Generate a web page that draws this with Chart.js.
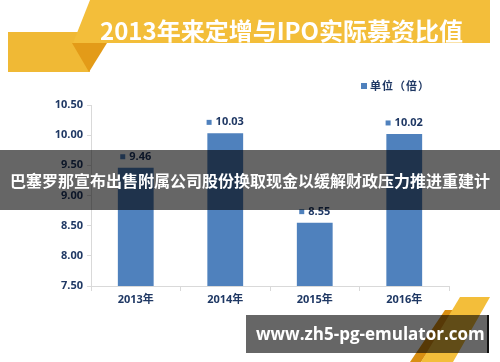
<!DOCTYPE html>
<html>
<head>
<meta charset="utf-8">
<script src="https://cdn.jsdelivr.net/npm/chart.js@4/dist/chart.umd.min.js"></script>
<style>
  html,body{margin:0;padding:0;background:#fff;}
  #wrap{position:relative;width:500px;height:362px;overflow:hidden;background:#fff;font-family:"Noto Sans CJK SC","Open Sans",sans-serif;}
  #deco{position:absolute;left:0;top:0;z-index:0;}
  #c{position:absolute;left:0;top:0;z-index:1;}
  #title{position:absolute;left:100px;top:12px;line-height:36px;font-size:24px;font-weight:bold;color:#fff;z-index:2;white-space:nowrap;}
  #legend{position:absolute;left:361px;top:77px;font-size:11px;letter-spacing:1px;font-weight:bold;color:#1f3864;z-index:2;white-space:nowrap;}
  #legend i{display:inline-block;width:6px;height:6px;background:#4f81bd;margin-right:3px;vertical-align:1px;}
  #strip{position:absolute;left:0;top:150px;width:500px;height:60px;line-height:60px;background:rgba(0,0,0,0.6);color:#fff;font-size:16px;font-weight:bold;text-align:center;z-index:3;white-space:nowrap;}
  #wm{position:absolute;left:246px;top:315px;width:243px;height:38px;line-height:38px;padding-left:10px;box-sizing:border-box;background:rgba(0,0,0,0.6);border-right:2px solid #111;color:#fff;font-family:"Open Sans",sans-serif;font-size:17px;font-weight:bold;z-index:3;white-space:nowrap;}
</style>
</head>
<body>
<div id="wrap">
  <svg id="deco" width="500" height="362">
    <polygon points="8,32 84,32 90,72 8,72" fill="#f0b935"/>
    <polygon points="90,0 490,0 490,43 73,43" fill="#f3be3a"/>
    <polygon points="72,43 107,43 89,72" fill="#e39b18"/>
    <polygon points="445,310 456,310 421,362 410,362" fill="#d98f12"/>
    <polygon points="460,297 490,297 453,362 421,362" fill="#f3be3a"/>
  </svg>
  <canvas id="c" width="500" height="362"></canvas>
  <div id="title">2013年来定增与IPO实际募资比值</div>
  <div id="legend"><i></i>单位（倍）</div>
  <div id="strip">巴塞罗那宣布出售附属公司股份换取现金以缓解财政压力推进重建计</div>
  <div id="wm">www.zh5-pg-emulator.com</div>
</div>
<script>
// ── data ──────────────────────────────────────────────────────────────────────
const years=['2013年','2014年','2015年','2016年'];
const ratios=[9.46,10.03,8.55,10.02];
const yMin=7.5, yMax=10.5, yStep=0.5;

const NAVY='#1f3864', BLUE='#4f81bd', AXIS='#d9d9d9';
const FONT={family:'"Open Sans","Noto Sans CJK SC",sans-serif',size:11,weight:'bold'};

// value labels with a small square marker above each bar
const valPlug={id:'valPlug',afterDatasetsDraw(chart){
  const cx=chart.ctx, meta=chart.getDatasetMeta(0);
  cx.save();
  cx.font='bold 11px "Open Sans",sans-serif';
  cx.textBaseline='middle'; cx.textAlign='left';
  meta.data.forEach((el,i)=>{
    const txt=ratios[i].toFixed(2), w=cx.measureText(txt).width;
    const gw=5+4+w, x0=el.x-gw/2, yc=el.y-11;
    cx.fillStyle=BLUE; cx.fillRect(x0,yc-2.5,5,5);
    cx.fillStyle=NAVY; cx.fillText(txt,x0+9,yc);
  });
  cx.restore();
}};

new Chart(document.getElementById('c').getContext('2d'),{
  type:'bar',
  plugins:[valPlug],
  data:{labels:years,datasets:[{label:'单位（倍）',data:ratios,backgroundColor:BLUE,borderWidth:0,barPercentage:0.4,categoryPercentage:1}]},
  options:{
    responsive:false,animation:false,devicePixelRatio:1,
    layout:{padding:{left:0,top:105,right:51,bottom:0}},
    plugins:{legend:{display:false},tooltip:{enabled:false}},
    scales:{
      x:{
        afterFit:s=>{s.height=76;},
        grid:{drawOnChartArea:false,tickLength:5,color:AXIS},
        border:{color:AXIS,width:1},
        ticks:{color:NAVY,font:FONT,padding:2}
      },
      y:{
        min:yMin,max:yMax,
        afterFit:s=>{s.width=91;},
        grid:{drawOnChartArea:false,tickLength:4,color:AXIS},
        border:{color:AXIS,width:1},
        ticks:{stepSize:yStep,color:NAVY,font:FONT,padding:4,callback:v=>v.toFixed(2)}
      }
    }
  }
});
</script>
</body>
</html>
